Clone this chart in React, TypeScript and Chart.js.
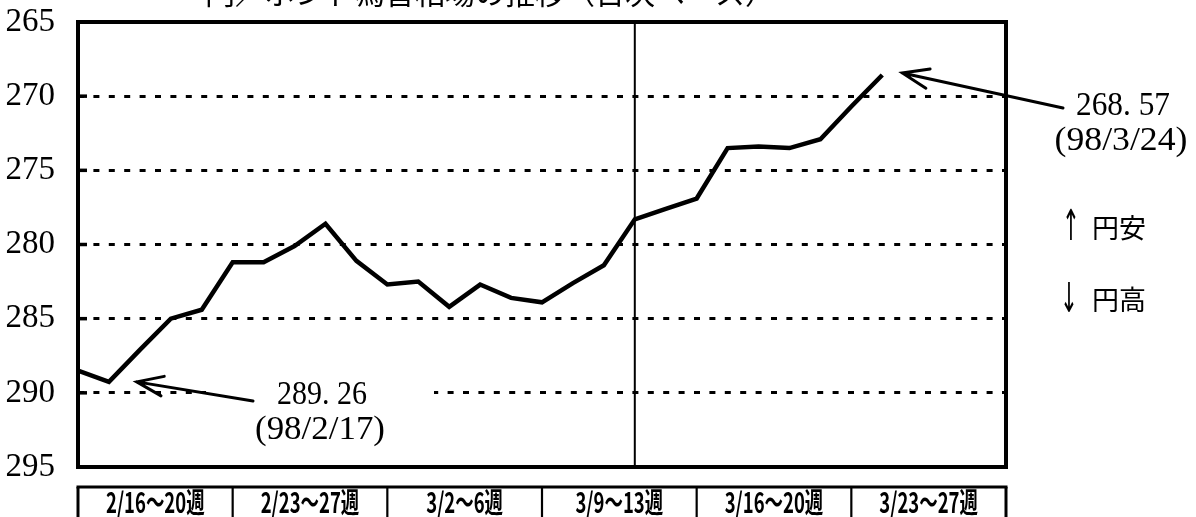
import React, { useEffect, useRef } from "react";
import { Chart, registerables } from "chart.js";

Chart.register(...registerables);

// ---- data ----
const weekLabels = ["2/16～20週", "2/23～27週", "3/2～6週", "3/9～13週", "3/16～20週", "3/23～27週"];
const dayLabels = [
  "2/16", "2/17", "2/18", "2/19", "2/20",
  "2/23", "2/24", "2/25", "2/26", "2/27",
  "3/2", "3/3", "3/4", "3/5", "3/6",
  "3/9", "3/10", "3/11", "3/12", "3/13",
  "3/16", "3/17", "3/18", "3/19", "3/20",
  "3/23", "3/24", "3/25", "3/26", "3/27",
];
const rates = [
  288.5, 289.26, 287.1, 285.0, 284.4,
  281.2, 281.2, 280.1, 278.6, 281.1,
  282.7, 282.5, 284.2, 282.7, 283.6,
  283.9, 282.6, 281.4, 278.3, 277.6,
  276.9, 273.5, 273.4, 273.5, 272.9,
  270.7, 268.57,
];
const yTicks = [265, 270, 275, 280, 285, 290, 295];
const daysPerWeek = 5;
const dividerDay = 18;
const lowIndex = 1;
const highIndex = 26;
const lowText = ["289. 26", "(98/2/17)"];
const highText = ["268. 57", "(98/3/24)"];
const upText = ["↑", "円安"];
const downText = ["↓", "円高"];
const titleText = "円／ポンド為替相場の推移（日次ベース）";

const SERIF = "'Liberation Serif', 'DejaVu Serif', serif";
const CJK = "'Noto Sans CJK JP', 'Noto Sans', sans-serif";

function fitWidth(ctx: CanvasRenderingContext2D, text: string, cx: number, baseline: number, width: number, font: string) {
  ctx.save();
  ctx.font = font;
  ctx.textAlign = "center";
  ctx.textBaseline = "alphabetic";
  const w = ctx.measureText(text).width;
  ctx.translate(cx, baseline);
  ctx.scale(width / w, 1);
  ctx.fillStyle = "#000";
  ctx.fillText(text, 0, 0);
  ctx.restore();
}

function scaledText(ctx: CanvasRenderingContext2D, text: string, cx: number, baseline: number, sx: number, font: string) {
  ctx.save();
  ctx.font = font;
  ctx.textAlign = "center";
  ctx.textBaseline = "alphabetic";
  ctx.translate(cx, baseline);
  ctx.scale(sx, 1);
  ctx.fillStyle = "#000";
  ctx.fillText(text, 0, 0);
  ctx.restore();
}

function fitBox(ctx: CanvasRenderingContext2D, text: string, left: number, top: number, w: number, h: number, font: string) {
  ctx.save();
  ctx.font = font;
  ctx.textAlign = "left";
  ctx.textBaseline = "alphabetic";
  const m = ctx.measureText(text);
  const iw = m.actualBoundingBoxLeft + m.actualBoundingBoxRight;
  const ih = m.actualBoundingBoxAscent + m.actualBoundingBoxDescent;
  ctx.translate(left, top);
  ctx.scale(w / iw, h / ih);
  ctx.fillStyle = "#000";
  ctx.fillText(text, m.actualBoundingBoxLeft, m.actualBoundingBoxAscent);
  ctx.restore();
}

function arrow(ctx: CanvasRenderingContext2D, tx: number, ty: number, fx: number, fy: number) {
  const ang = Math.atan2(fy - ty, fx - tx);
  ctx.save();
  ctx.strokeStyle = "#000";
  ctx.lineWidth = 3;
  ctx.lineCap = "round";
  ctx.beginPath();
  ctx.moveTo(fx, fy);
  ctx.lineTo(tx, ty);
  const len = 28;
  const spread = 0.36;
  ctx.moveTo(tx + len * Math.cos(ang - spread), ty + len * Math.sin(ang - spread));
  ctx.lineTo(tx, ty);
  ctx.lineTo(tx + len * Math.cos(ang + spread), ty + len * Math.sin(ang + spread));
  ctx.stroke();
  ctx.restore();
}

const decorPlugin = {
  id: "decor",
  beforeDatasetsDraw(chart: any) {
    const { ctx, chartArea, scales } = chart;
    const x = scales.x;
    const dx = x.getPixelForValue(dividerDay);
    ctx.save();
    ctx.strokeStyle = "#000";
    ctx.lineWidth = 2;
    ctx.beginPath();
    ctx.moveTo(dx, chartArea.top);
    ctx.lineTo(dx, chartArea.bottom);
    ctx.stroke();
    ctx.restore();
  },
  afterDatasetsDraw(chart: any) {
    const { ctx, chartArea, scales } = chart;
    const x = scales.x;
    const y = scales.y;
    const { left, top, right, bottom } = chartArea;

    // title (cut off at top of picture)
    ctx.save();
    ctx.font = `30px ${CJK}`;
    ctx.textAlign = "left";
    ctx.textBaseline = "alphabetic";
    ctx.fillStyle = "#000";
    ctx.fillText(titleText, 205, 4);
    ctx.restore();

    // plot frame
    ctx.save();
    ctx.strokeStyle = "#000";
    ctx.lineWidth = 4;
    ctx.strokeRect(left, top, right - left, bottom - top);
    // left tick marks
    ctx.lineWidth = 3.5;
    yTicks.slice(1, -1).forEach((v) => {
      const py = y.getPixelForValue(v);
      ctx.beginPath();
      ctx.moveTo(left, py);
      ctx.lineTo(left + 9, py);
      ctx.stroke();
    });
    ctx.restore();

    // low annotation
    ctx.save();
    ctx.fillStyle = "#fff";
    ctx.fillRect(206, 372, 228, 74);
    ctx.restore();
    fitWidth(ctx, lowText[0], 322, 404, 90, `33px ${SERIF}`);
    fitWidth(ctx, lowText[1], 320, 439, 130, `33px ${SERIF}`);
    arrow(ctx, x.getPixelForValue(lowIndex + 0.9), y.getPixelForValue(rates[lowIndex]), 253, 401);

    // high annotation
    fitWidth(ctx, highText[0], 1123, 115, 94, `33px ${SERIF}`);
    fitWidth(ctx, highText[1], 1121, 150, 133, `33px ${SERIF}`);
    arrow(ctx, x.getPixelForValue(highIndex + 0.65), y.getPixelForValue(rates[highIndex]) - 2, 1063, 108);

    // side legend
    fitBox(ctx, upText[0], 1066, 208, 10, 32, `32px 'DejaVu Sans', sans-serif`);
    fitBox(ctx, downText[0], 1064, 281, 10, 32, `32px 'DejaVu Sans', sans-serif`);
    ctx.save();
    ctx.font = `27px ${CJK}`;
    ctx.textAlign = "left";
    ctx.textBaseline = "alphabetic";
    ctx.fillStyle = "#000";
    ctx.fillText(upText[1], 1092, 238);
    ctx.fillText(downText[1], 1092, 310);
    ctx.restore();

    // week table
    const tTop = 487;
    const tBot = 520;
    ctx.save();
    ctx.strokeStyle = "#000";
    ctx.lineWidth = 3;
    ctx.beginPath();
    ctx.moveTo(x.getPixelForValue(0) - 1.5, tTop);
    ctx.lineTo(x.getPixelForValue(30) + 1.5, tTop);
    ctx.stroke();
    for (let k = 0; k <= weekLabels.length; k++) {
      const px = x.getPixelForValue(k * daysPerWeek);
      ctx.lineWidth = k === 0 || k === weekLabels.length ? 3 : 2.2;
      ctx.beginPath();
      ctx.moveTo(px, tTop);
      ctx.lineTo(px, tBot);
      ctx.stroke();
    }
    ctx.restore();
    weekLabels.forEach((lab, k) => {
      const cx = (x.getPixelForValue(k * daysPerWeek) + x.getPixelForValue((k + 1) * daysPerWeek)) / 2;
      scaledText(ctx, lab, cx, 513, 0.66, `bold 28px ${CJK}`);
    });
  },
};

export default function App() {
  const ref = useRef<HTMLCanvasElement | null>(null);
  useEffect(() => {
    if (!ref.current) return;
    const chart = new Chart(ref.current, {
      type: "line",
      data: {
        labels: dayLabels,
        datasets: [
          {
            data: rates.map((v, i) => ({ x: i, y: v })),
            borderColor: "#000",
            borderWidth: 4.5,
            pointRadius: 0,
            tension: 0,
            fill: false,
          },
        ],
      },
      options: {
        animation: false,
        responsive: false,
        devicePixelRatio: 1,
        layout: { padding: { left: 0, top: 22, right: 190, bottom: 50 } },
        plugins: { legend: { display: false }, tooltip: { enabled: false }, title: { display: false } },
        scales: {
          x: { type: "linear", min: 0, max: 30, display: false },
          y: {
            type: "linear",
            min: 265,
            max: 295,
            reverse: true,
            afterBuildTicks: (s: any) => {
              s.ticks = yTicks.map((v) => ({ value: v }));
            },
            afterFit: (s: any) => {
              s.width = 78;
              s.paddingTop = 0;
              s.paddingBottom = 0;
            },
            ticks: {
              padding: 23,
              color: "#000",
              font: { family: SERIF, size: 33 },
            },
            grid: {
              drawTicks: false,
              lineWidth: 3,
              color: (c: any) =>
                c.tick && (c.tick.value === 265 || c.tick.value === 295) ? "rgba(0,0,0,0)" : "#000",
            },
            border: { display: false, dash: [6, 9.4] },
          },
        },
      },
      plugins: [decorPlugin],
    });
    return () => chart.destroy();
  }, []);
  return (
    <div style={{ position: "absolute", left: 0, top: 0, width: 1196, height: 517, background: "#fff" }}>
      <canvas ref={ref} width={1196} height={517} style={{ display: "block" }} />
    </div>
  );
}
